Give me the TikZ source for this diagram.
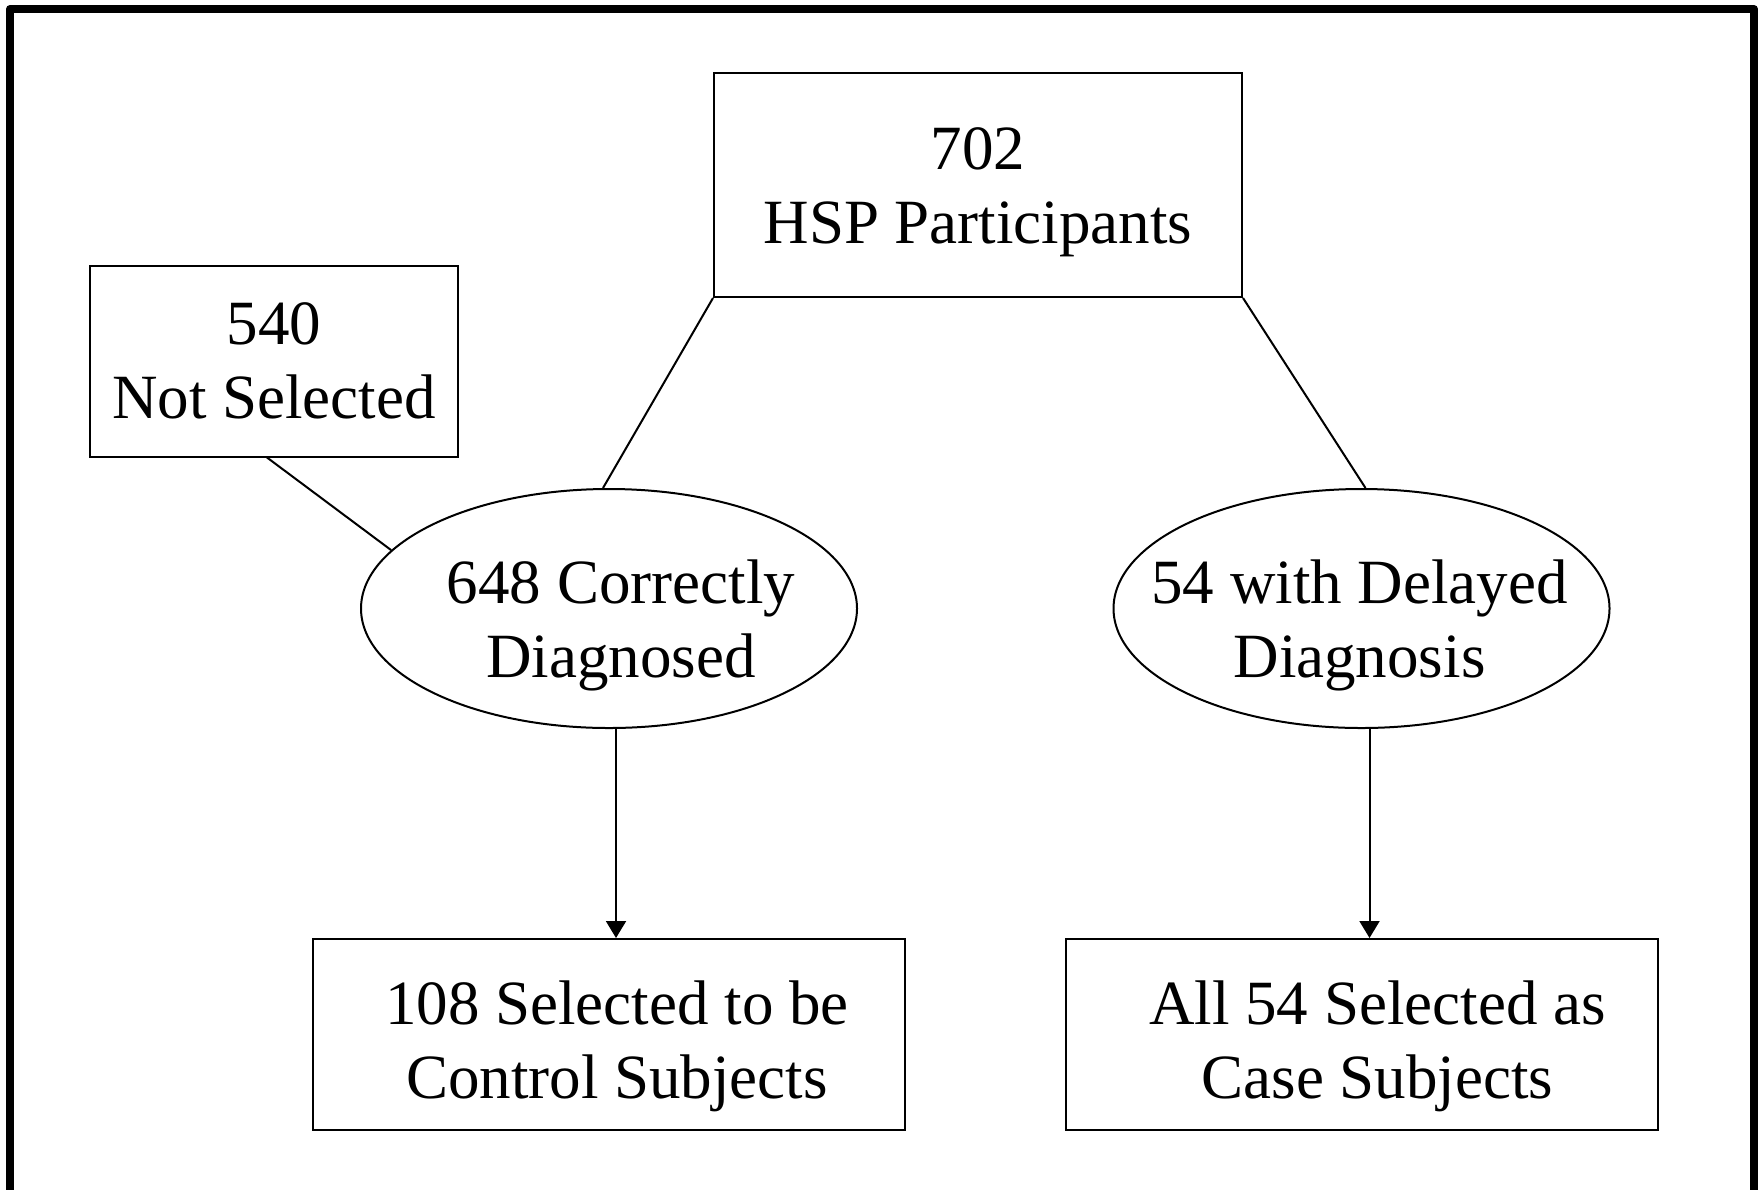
\documentclass[tikz,border=0pt]{standalone}
\usepackage{fontspec}
\setmainfont{Liberation Serif}
\usetikzlibrary{arrows.meta,positioning,shapes.geometric}
\newcommand{\flowfont}{\fontsize{31.5}{37}\selectfont}
\tikzset{
  box/.style={
    draw,line width=1pt,inner sep=4pt,
    minimum height=95.5pt,align=center,font=\flowfont
  },
  oval/.style={
    ellipse,draw,line width=1pt,inner sep=0pt,
    minimum width=248pt,minimum height=119.5pt
  },
  inner/.style={align=center,font=\flowfont},
  link/.style={line width=1pt},
  arrow/.style={-{Triangle[length=8.5pt,width=10pt]},line width=1pt}
}

\begin{document}
\begin{tikzpicture}[x=0.5pt,y=-0.5pt]
  \useasboundingbox (0,0) rectangle (1764,1189);
  % outer frame, open at the bottom edge
  \draw[line width=4pt,line join=round] (10,1200) -- (10,9) -- (1754,9) -- (1754,1200);

  \node[box,minimum width=264pt,minimum height=112pt,
    label={[inner,yshift=-3.5pt]center:702\\HSP Participants}] (hsp) at (978,185) {};
  \node[box,minimum width=184pt] (notsel) at (274,361) {540\\Not Selected};

  \node[oval,label={[inner,xshift=6pt,yshift=-8.5pt]center:648 Correctly\\Diagnosed}] (cor) at (609,608.5) {};
  \node[oval,label={[inner,xshift=-1pt,yshift=-8.5pt]center:54 with Delayed\\Diagnosis}] (del) at (1361.5,608.5) {};

  \node[box,minimum width=296pt,below=104.5pt of cor,
    label={[inner,xshift=4pt,yshift=-6pt]center:108 Selected to be\\Control Subjects}] (ctrl) {};
  \node[box,minimum width=296pt,below=104.5pt of del,
    label={[inner,xshift=8pt,yshift=-6pt]center:All 54 Selected as\\Case Subjects}] (case) {};

  \draw[link] (hsp.south west) -- ([xshift=-3pt]cor.north);
  \draw[link] (hsp.south east) -- ([xshift=2pt]del.north);
  \draw[link] ([xshift=-3.5pt]notsel.south) -- (cor.165);

  \draw[arrow] ([xshift=3.5pt]cor.south) -- ([xshift=3.5pt]ctrl.north);
  \draw[arrow] ([xshift=4pt]del.south) -- ([xshift=4pt]case.north);
\end{tikzpicture}
\end{document}
